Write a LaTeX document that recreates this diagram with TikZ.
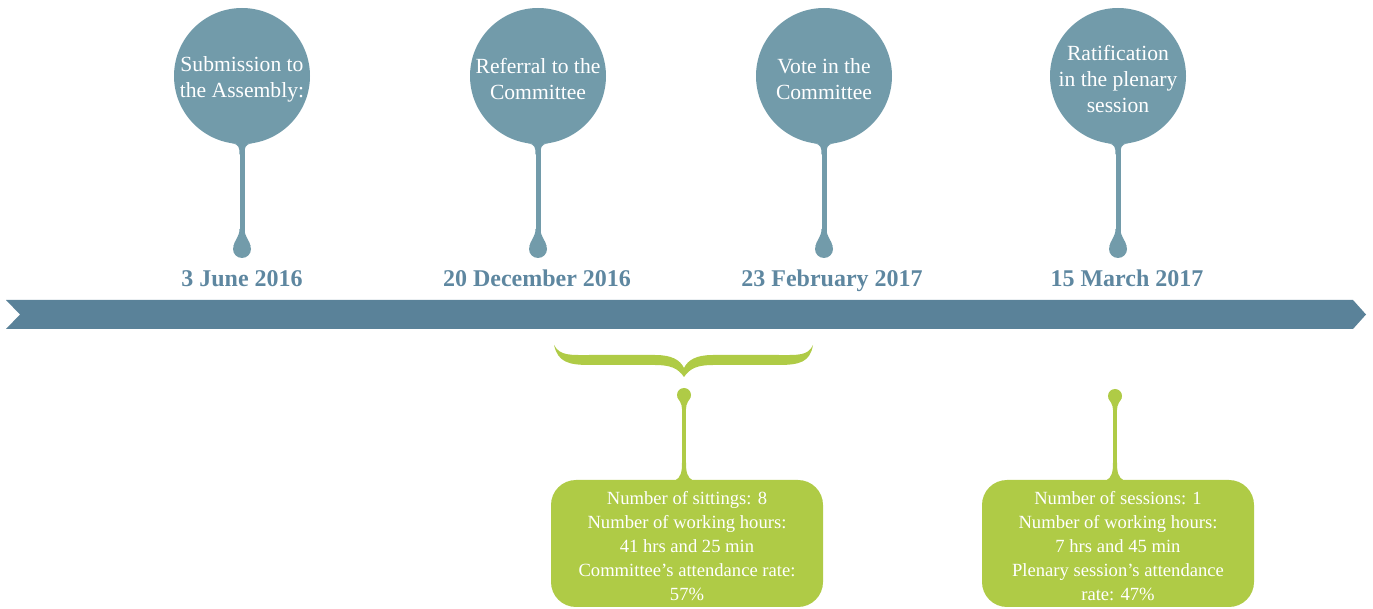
\documentclass[tikz,border=0pt]{standalone}
\usepackage{fontspec}
\setmainfont{Liberation Serif}
\usetikzlibrary{positioning}
\definecolor{stepblue}{HTML}{729BAA}
\definecolor{bandblue}{HTML}{5A8299}
\definecolor{dateblue}{HTML}{5E87A0}
\definecolor{figgreen}{HTML}{AFCB46}

\begin{document}
\begin{tikzpicture}[x=.5pt,y=-.5pt,
  bubble/.style={circle,fill=stepblue,minimum size=68pt,inner sep=0pt},
  bubbletext/.style={text=white,align=center,inner sep=0pt,font=\fontsize{10.8}{13}\selectfont},
  drip/.style={circle,fill=#1,inner sep=0pt},
  date/.style={anchor=base,text=dateblue,font=\fontsize{12}{14}\selectfont\bfseries},
  infobox/.style={rectangle,rounded corners=12.5pt,fill=figgreen,minimum width=136pt,
    minimum height=63.5pt},
  infotext/.style={text=white,align=center,inner sep=0pt,font=\fontsize{9.3}{12}\selectfont}]
  \useasboundingbox (0,0) rectangle (1373,609);
  % the band
  \fill[bandblue] (6,300)--(1353,300)--(1366,314.5)--(1353,329)--(6,329)--(20,314.5)--cycle;
  % stages
  \foreach \x/\txt/\n in {242/{Submission to\\the Assembly:}/1,
      538/{Referral to the\\Committee}/2,
      824/{Vote in the\\Committee}/3,
      1118/{Ratification\\in the plenary\\session}/4}{
    \node[bubble] (c\n) at (\x,76) {};
    \node[bubbletext] (s\n) at ([yshift=-1.5pt]c\n.center) {\txt};
    \node[drip=stepblue,minimum size=9pt] (d\n) at (\x,249) {};
    \draw[stepblue,line width=2.5pt] (c\n.south) -- (d\n.center);
    \fill[stepblue,shift={(c\n.south)}] (-10,-1) .. controls (-3,0) and (-2.5,3) .. (-2.5,10)
      -- (2.5,10) .. controls (2.5,3) and (3,0) .. (10,-1) -- cycle;
    \fill[stepblue,shift={(d\n.center)}] (-2.5,-20) .. controls (-2.5,-12) and (-8,-8) .. (-8.5,-3)
      -- (8.5,-3) .. controls (8,-8) and (2.5,-12) .. (2.5,-20) -- cycle;
  }
  \foreach \x/\txt/\n in {242/3 June 2016/1,537/20 December 2016/2,
      832/23 February 2017/3,1127/15 March 2017/4}
    \node[date] (t\n) at (\x,287) {\txt};
  % brace over the committee stage
  \fill[figgreen] (554,345) .. controls (560,356) and (570,355) .. (590,355) -- (655,355)
    .. controls (672,355) and (680,360) .. (684,368)
    .. controls (688,360) and (696,355) .. (713,355) -- (778,355)
    .. controls (798,355) and (808,356) .. (813,345)
    .. controls (810,362) and (800,365) .. (778,365) -- (713,365)
    .. controls (698,365) and (690,368) .. (684,377)
    .. controls (678,368) and (670,365) .. (655,365) -- (590,365)
    .. controls (568,365) and (558,362) .. cycle;
  % figures
  \node[infobox] (b1) at (687,543.5) {};
  \node[infotext] (f1) at ([yshift=-1.5pt]b1.center) {Number of sittings: 8\\Number of working hours:\\
    41 hrs and 25 min\\Committee’s attendance rate:\\57\%};
  \node[infobox] (b2) at (1118,543.5) {};
  \node[infotext] (f2) at ([yshift=-1.5pt]b2.center) {Number of sessions: 1\\Number of working hours:\\
    7 hrs and 45 min\\Plenary session’s attendance\\rate: 47\%};
  \node[drip=figgreen,minimum size=7pt] (g1) at (684,395) {};
  \node[drip=figgreen,minimum size=7pt] (g2) at (1115,396) {};
  \foreach \n in {1,2}{
    \draw[figgreen,line width=2pt] (g\n.center) -- (g\n.center |- b\n.north);
    \fill[figgreen,shift={(g\n.center |- b\n.north)}] (-9,1) .. controls (-3,-2) and (-2,-8) .. (-2,-17)
      -- (2,-17) .. controls (2,-8) and (3,-2) .. (9,1) -- cycle;
    \fill[figgreen,shift={(g\n.center)}] (-6.5,2) .. controls (-5,6) and (-2,8) .. (-2,14)
      -- (2,14) .. controls (2,8) and (5,6) .. (6.5,2) -- cycle;
  }
\end{tikzpicture}
\end{document}
